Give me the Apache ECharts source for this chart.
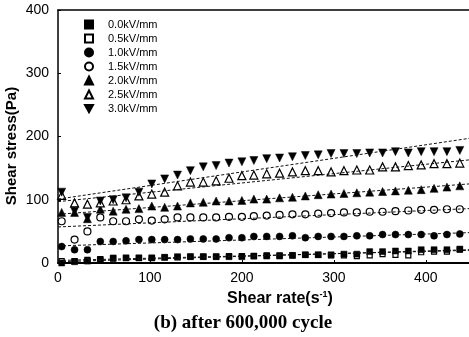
<!DOCTYPE html>
<html>
<head>
<meta charset="utf-8">
<script src="https://cdn.jsdelivr.net/npm/echarts@6/dist/echarts.min.js"></script>
<style>
html,body{margin:0;padding:0;background:#fff;}
#c{width:469px;height:337px;}
</style>
</head>
<body>
<div id="c"></div>
<script>
// ---- data ----
const shearRate = [4,18,32,46,60,74,88,102,116,130,144,158,172,186,200,213,227,241,255,269,283,297,311,325,339,353,367,381,395,409,423,437];
const seriesNames = ['0.0kV/mm','0.5kV/mm','1.0kV/mm','1.5kV/mm','2.0kV/mm','2.5kV/mm','3.0kV/mm'];
const s00 = [0,2,3,5,8,8,8,8,9,10,10,10,10,10,10,11,11,11,12,13,13,13,14,14,18,18,19,19,21,21,21,22];
const s05 = [3,3,5,6,7,8,8,8,9,9,10,10,10,11,11,11,12,12,12,13,13,12,12,11,12,14,13,12,17,18,18,21];
const s10 = [26,21,21,34,34,35,37,37,37,37,38,38,38,40,40,42,42,42,43,40,42,42,42,43,43,45,45,45,45,43,45,46];
const s15 = [66,37,50,72,66,66,69,67,69,72,72,72,72,73,73,74,75,76,77,77,78,79,80,80,81,81,82,83,84,84,85,85];
const s20 = [80,80,70,85,82,85,86,90,88,90,95,96,98,98,99,101,101,103,104,106,108,109,110,111,112,113,114,115,116,118,120,122];
const s25 = [107,95,93,95,98,100,106,109,112,122,128,128,130,134,138,139,141,142,144,146,146,144,146,147,147,152,152,154,155,157,157,158];
const s30 = [112,82,72,98,100,103,112,125,133,139,146,152,154,158,160,162,165,166,168,170,171,173,173,173,174,174,176,174,176,176,176,178];
// fitted lines: value at shear rate fitX[0] and fitX[1]
const fitX = [0, 447];
const fitStart = [2, 4, 27, 57, 77, 97, 101];
const fitEnd   = [21, 20, 48, 86, 125, 163, 197];
// axis ticks
const xTicks = [0,100,200,300,400];
const yTicks = [0,100,200,300,400];

const values = [s00,s05,s10,s15,s20,s25,s30];
const invTri = 'path://M0,0 L10,0 L5,9 Z';
const styles = [
  {symbol:'rect', size:6, fill:'#000'},
  {symbol:'rect', size:5, fill:'#fff'},
  {symbol:'circle', size:7, fill:'#000'},
  {symbol:'circle', size:7, fill:'#fff'},
  {symbol:'triangle', size:8, fill:'#000'},
  {symbol:'triangle', size:8, fill:'#fff'},
  {symbol:invTri, size:8, fill:'#000'}
];
const zOrder = [3,2,2,2,2,2,2];

const series = [];
seriesNames.forEach((n,k)=>{
  const st = styles[k];
  series.push({
    name:n, type:'scatter', symbol:st.symbol, symbolSize:st.size, z:zOrder[k],
    itemStyle:{color:st.fill, borderColor:'#000', borderWidth:st.fill==='#fff'?1.2:0.5, opacity:1},
    emphasis:{disabled:true},
    data: shearRate.map((x,i)=>[x, values[k][i]])
  });
});
seriesNames.forEach((n,k)=>{
  series.push({
    name:'fit'+k, type:'line', symbol:'none', silent:true, z:4,
    lineStyle:{color:'#111', width:1, type:[3,2]},
    data:[[fitX[0], fitStart[k]],[fitX[1], fitEnd[k]]]
  });
});

const FONT = 'Arial, "Liberation Sans", sans-serif';
const chart = echarts.init(document.getElementById('c'), null, {renderer:'canvas'});
chart.setOption({
  animation:false,
  backgroundColor:'#fff',
  grid:{left:58, top:10, right:-1, bottom:74},
  legend:{
    data:seriesNames, orient:'vertical', left:84, top:19, padding:0,
    itemWidth:8, itemHeight:8, itemGap:3, selectedMode:false,
    textStyle:{fontFamily:FONT, fontSize:11, color:'#000', lineHeight:10, padding:[0,0,0,10]}
  },
  xAxis:[{
    type:'value', min:0, max:447, interval:100,
    axisLine:{lineStyle:{color:'#000', width:2}},
    axisTick:{inside:true, length:3, lineStyle:{color:'#000'}},
    splitLine:{show:false},
    axisLabel:{color:'#000', fontFamily:FONT, fontSize:14, margin:8, showMaxLabel:false,
      formatter:v=> xTicks.indexOf(v)>=0 ? String(v) : ''}
  },{
    type:'value', position:'top', min:0, max:447, interval:100,
    axisLine:{show:true, lineStyle:{color:'#000', width:1.5}},
    axisTick:{show:false}, axisLabel:{show:false}, splitLine:{show:false}
  }],
  yAxis:{
    type:'value', min:0, max:400, interval:100,
    axisLine:{show:true, lineStyle:{color:'#000', width:1.5}},
    axisTick:{show:true, inside:true, length:3, lineStyle:{color:'#000'}},
    splitLine:{show:false},
    axisLabel:{color:'#000', fontFamily:FONT, fontSize:14, margin:9,
      formatter:v=> yTicks.indexOf(v)>=0 ? String(v) : ''}
  },
  graphic:[
    {type:'text', x:280, y:299, style:{
      text:'{a|Shear rate(s}{b|-1}{a|)}', align:'center', verticalAlign:'middle',
      rich:{a:{fontFamily:FONT, fontWeight:'bold', fontSize:16, lineHeight:18, fill:'#000'},
            b:{fontFamily:FONT, fontWeight:'bold', fontSize:9, verticalAlign:'top', fill:'#000'}}
    }},
    {type:'text', x:12, y:146, rotation:Math.PI/2, style:{
      text:'Shear stress(Pa)', align:'center', verticalAlign:'middle',
      font:'bold 15px Arial, "Liberation Sans", sans-serif', fill:'#000'
    }},
    {type:'text', x:243, y:323, style:{
      text:'(b) after 600,000 cycle', align:'center', verticalAlign:'middle',
      font:'bold 19px "Times New Roman", "Liberation Serif", serif', fill:'#000'
    }}
  ],
  series:series
});
</script>
</body>
</html>
